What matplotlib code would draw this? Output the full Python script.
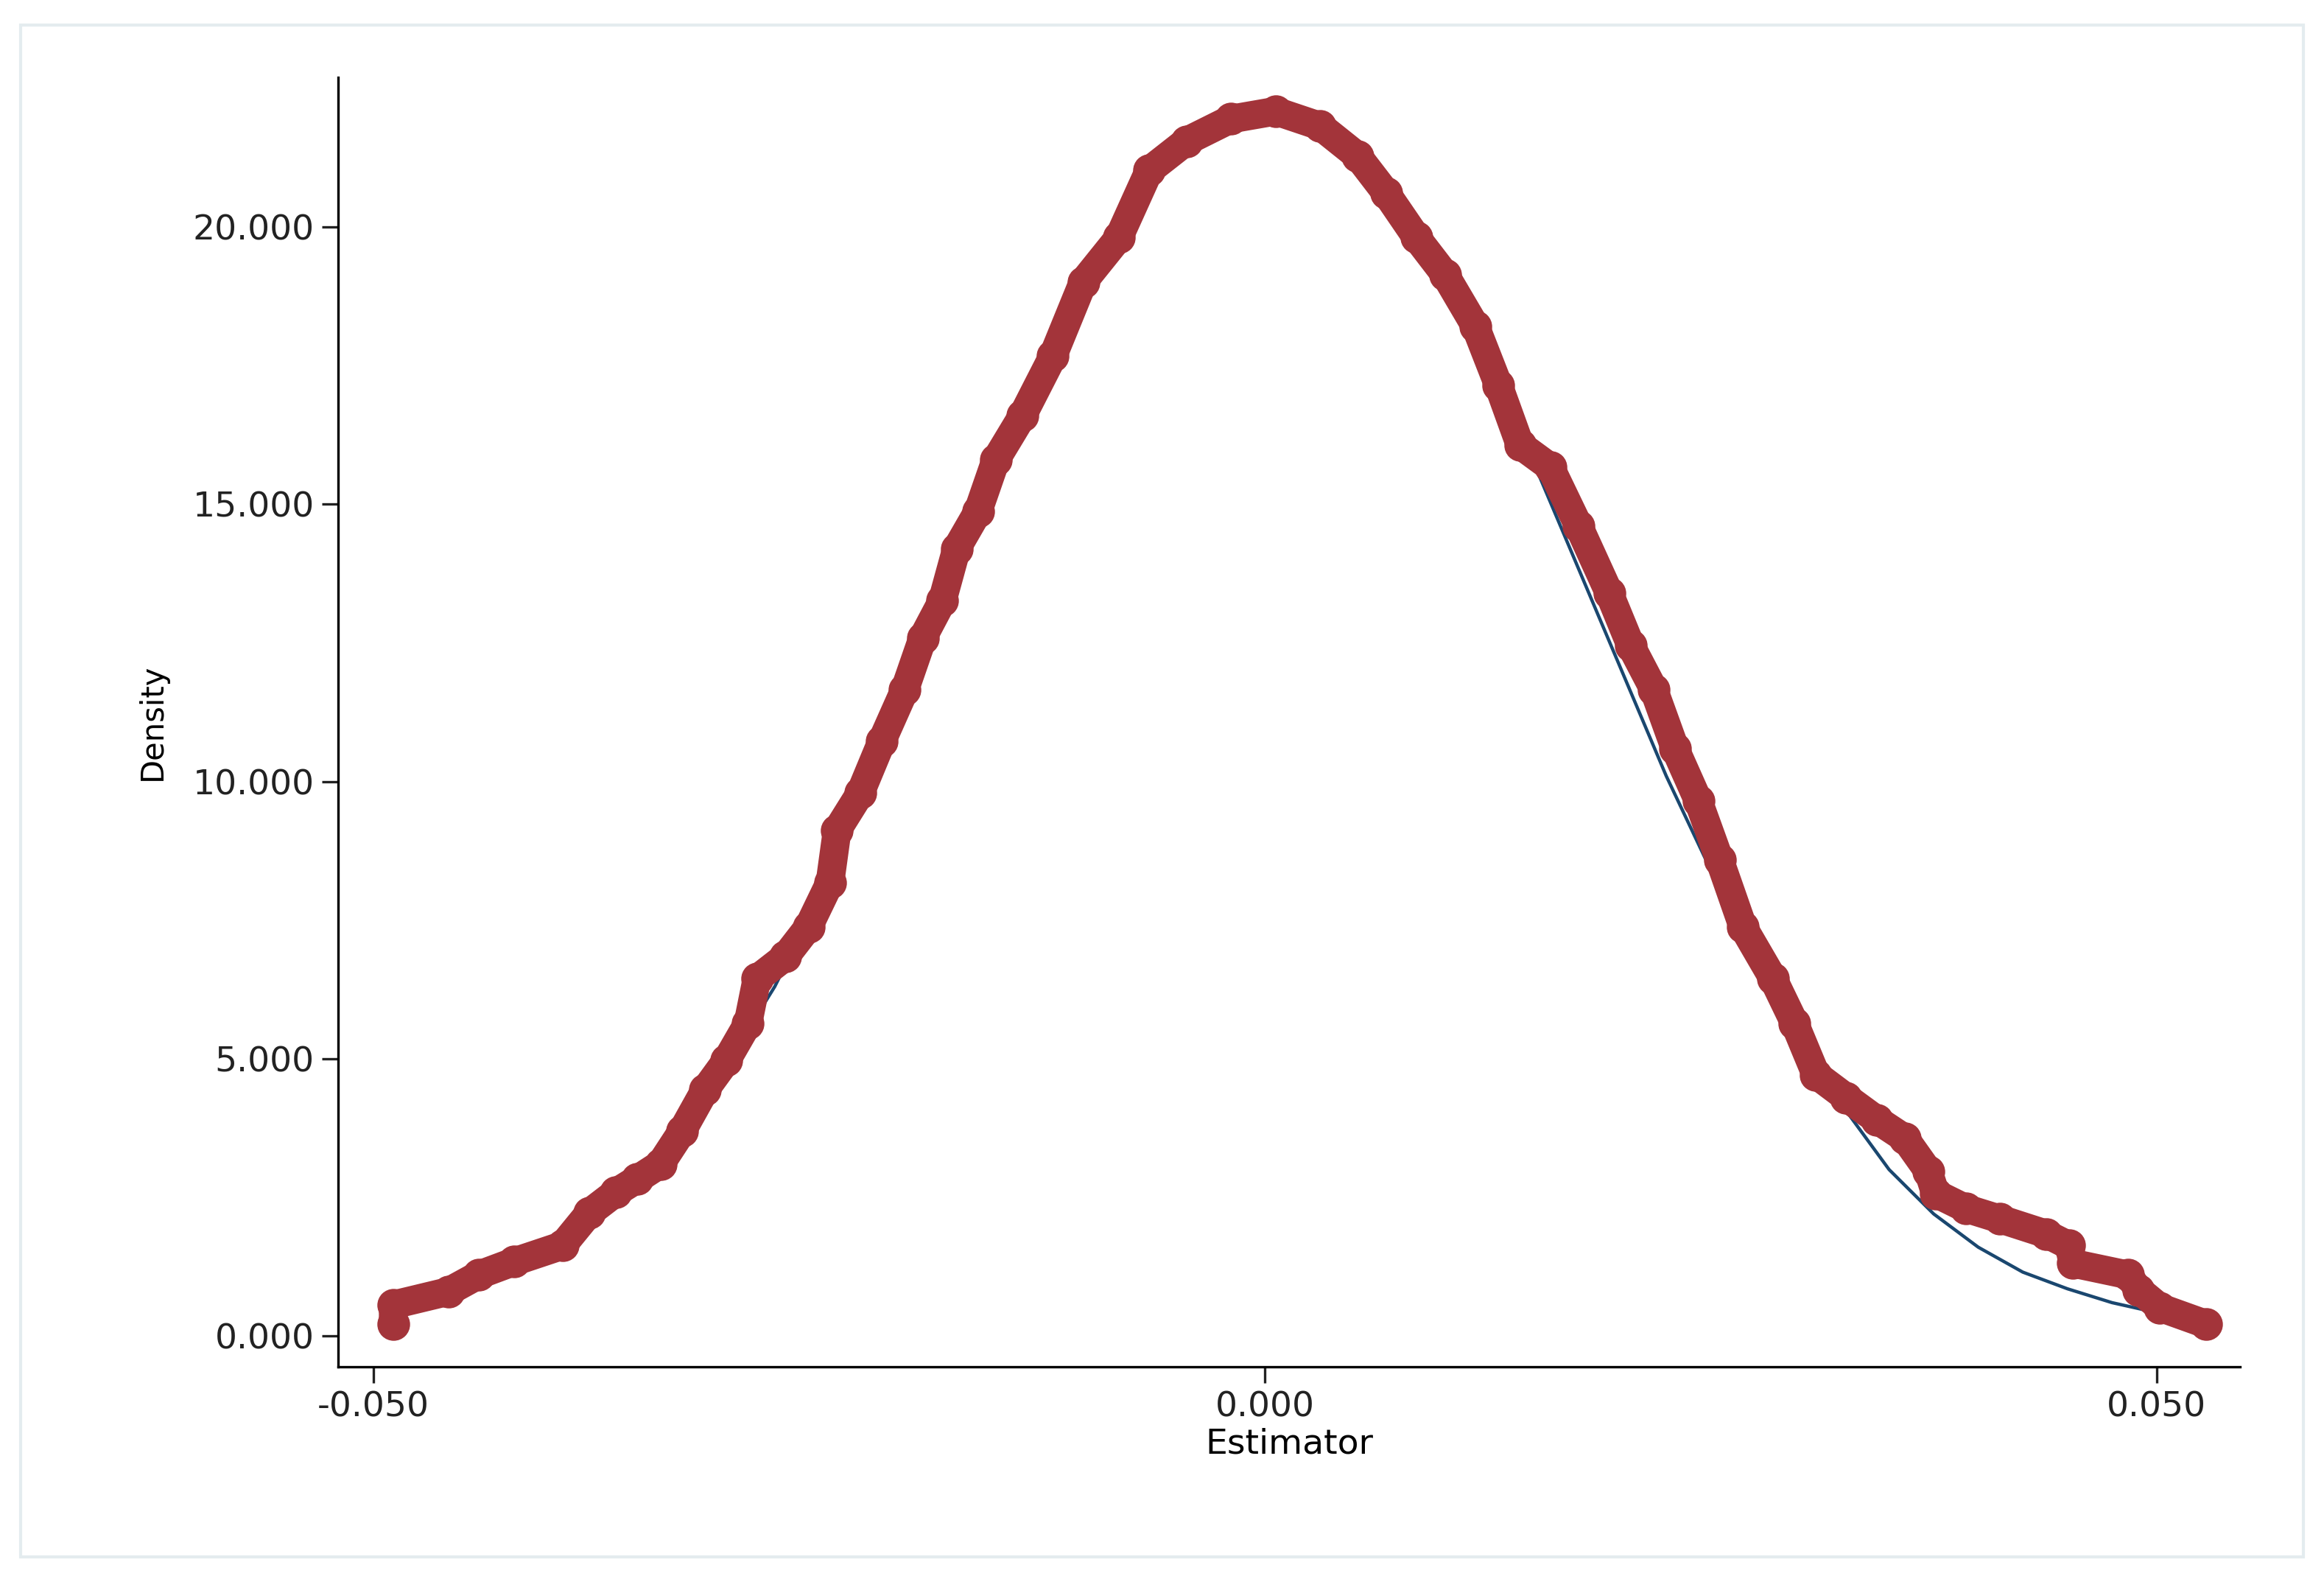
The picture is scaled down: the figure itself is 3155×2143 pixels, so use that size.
import matplotlib
matplotlib.use("Agg")
import matplotlib.pyplot as plt
from matplotlib.patches import Rectangle
from matplotlib.ticker import FuncFormatter

# empirical density points (estimator, density)
est_x = [-0.0489, -0.0489, -0.0458, -0.0441, -0.0421, -0.0394, -0.0379, -0.0364, -0.0352,
         -0.0339, -0.0327, -0.0314, -0.0302, -0.0290, -0.0285, -0.0269, -0.0256, -0.0244,
         -0.0240, -0.0227, -0.0215, -0.0202, -0.0192, -0.0181, -0.0173, -0.0161, -0.0151,
         -0.0136, -0.0119, -0.0102, -0.0082, -0.0065, -0.0044, -0.0019, 0.0006, 0.0031,
         0.0052, 0.0068, 0.0085, 0.0101, 0.0118, 0.0131, 0.0143, 0.0160, 0.0176, 0.0193,
         0.0205, 0.0218, 0.0230, 0.0243, 0.0255, 0.0268, 0.0285, 0.0297, 0.0309, 0.0326,
         0.0343, 0.0359, 0.0372, 0.0376, 0.0393, 0.0412, 0.0438, 0.0451, 0.0453, 0.0484,
         0.0490, 0.0502, 0.0528]
est_y = [0.21, 0.56, 0.80, 1.10, 1.34, 1.63, 2.22, 2.59, 2.83, 3.10, 3.69, 4.44, 4.97, 5.64,
         6.44, 6.84, 7.38, 8.18, 9.12, 9.79, 10.72, 11.66, 12.59, 13.26, 14.20, 14.87, 15.80,
         16.60, 17.67, 19.01, 19.81, 21.02, 21.55, 21.95, 22.09, 21.82, 21.28, 20.61, 19.81,
         19.14, 18.21, 17.14, 16.07, 15.67, 14.60, 13.40, 12.46, 11.66, 10.59, 9.65, 8.58,
         7.38, 6.44, 5.64, 4.71, 4.30, 3.90, 3.56, 2.97, 2.57, 2.30, 2.11, 1.84, 1.63, 1.31,
         1.10, 0.83, 0.51, 0.21]

# reference normal density curve
norm_x = [-0.049, -0.047, -0.045, -0.0425, -0.04, -0.0375, -0.035, -0.0325, -0.03, -0.0275,
          -0.025, -0.0225, -0.02, -0.0175, -0.015, -0.0125, -0.01, -0.0075, -0.005, -0.0025,
          0.0, 0.0025, 0.005, 0.0075, 0.01, 0.0125, 0.015, 0.0175, 0.02, 0.0225, 0.025,
          0.0275, 0.03, 0.0325, 0.035, 0.0375, 0.04, 0.0425, 0.045, 0.0475, 0.05, 0.053]
norm_y = [0.55, 0.72, 0.95, 1.3, 1.7, 2.3, 3.0, 3.9, 5.0, 6.3, 7.9, 9.6, 11.5, 13.5, 15.5,
          17.4, 19.0, 20.4, 21.3, 21.9, 22.0, 21.9, 21.3, 20.4, 19.0, 17.5, 15.8, 13.9, 12.0,
          10.1, 8.4, 6.8, 5.3, 4.1, 3.0, 2.2, 1.6, 1.15, 0.85, 0.6, 0.42, 0.28]

red = "#A3343A"
blue = "#1A476F"

fig = plt.figure(figsize=(15.775, 10.715), dpi=200)
fig.patches.append(Rectangle((0.009, 0.014), 0.982, 0.97, transform=fig.transFigure,
                             fill=False, edgecolor="#E4ECEF", linewidth=1.5))
ax = fig.add_axes([0.1454, 0.1343, 0.8186, 0.8167])

ax.plot(norm_x, norm_y, color=blue, linewidth=1.6, zorder=2)
ax.plot(est_x, est_y, color=red, linewidth=14, solid_capstyle="round", zorder=3)
ax.plot(est_x, est_y, "o", color=red, markersize=15, zorder=4)

ax.set_xlim(-0.052, 0.0547)
ax.set_ylim(-0.56, 22.7)
ax.set_xticks([-0.05, 0.0, 0.05])
ax.set_yticks([0, 5, 10, 15, 20])
ax.xaxis.set_major_formatter(FuncFormatter(lambda v, p: f"{v:.3f}"))
ax.yaxis.set_major_formatter(FuncFormatter(lambda v, p: f"{v:.3f}"))
ax.tick_params(labelsize=17, length=8, width=1.2, colors="#222222")
for s in ["top", "right"]:
    ax.spines[s].set_visible(False)
for s in ["left", "bottom"]:
    ax.spines[s].set_linewidth(1.2)
ax.set_xlabel("Estimator", fontsize=17, labelpad=2)
ax.set_ylabel("Density", fontsize=15, labelpad=12)

fig.savefig("out.png", dpi=200)
